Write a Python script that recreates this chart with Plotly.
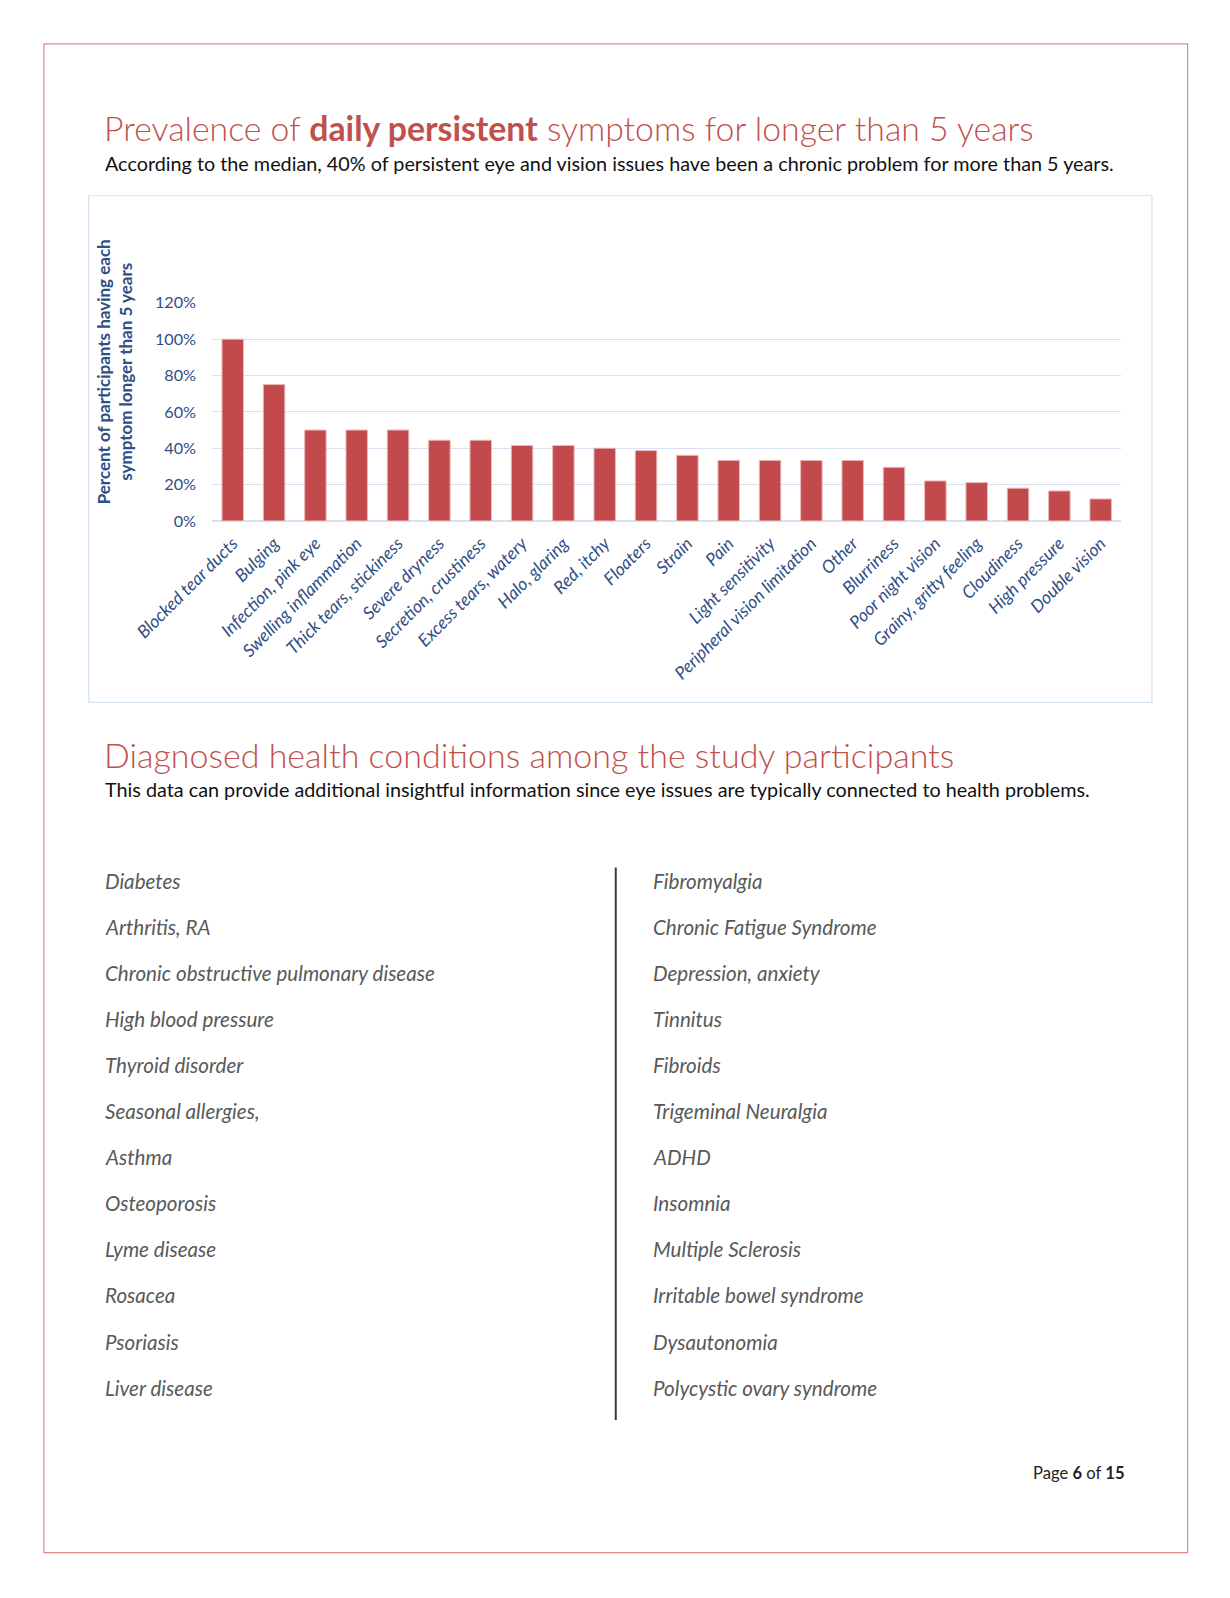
import plotly.graph_objects as go

W, H = 1230, 1598

symptoms = ["Blocked tear ducts", "Bulging", "Infection, pink eye", "Swelling inflammation",
            "Thick tears, stickiness", "Severe dryness", "Secretion, crustiness",
            "Excess tears, watery", "Halo, glaring", "Red, itchy", "Floaters", "Strain",
            "Pain", "Light sensitivity", "Peripheral vision limitation", "Other",
            "Blurriness", "Poor night vision", "Grainy, gritty feeling", "Cloudiness",
            "High pressure", "Double vision"]
percent = [100, 75, 50, 50, 50, 44.4, 44.4, 41.5, 41.5, 40, 38.7, 36.1,
           33.3, 33.3, 33.3, 33.3, 29.5, 22.0, 21.1, 18.0, 16.5, 12.1]
y_ticks = [0, 20, 40, 60, 80, 100, 120]
y_tick_labels = ["0%", "20%", "40%", "60%", "80%", "100%", "120%"]

conditions_left = ["Diabetes", "Arthritis, RA", "Chronic obstructive pulmonary disease",
                   "High blood pressure", "Thyroid disorder", "Seasonal allergies,",
                   "Asthma", "Osteoporosis", "Lyme disease", "Rosacea", "Psoriasis",
                   "Liver disease"]
conditions_right = ["Fibromyalgia", "Chronic Fatigue Syndrome", "Depression, anxiety",
                    "Tinnitus", "Fibroids", "Trigeminal Neuralgia", "ADHD", "Insomnia",
                    "Multiple Sclerosis", "Irritable bowel syndrome", "Dysautonomia",
                    "Polycystic ovary syndrome"]

# page offset (body margin) and screen scale compensation
OFF, SC = 7.8, 0.981


def px(x):
    return (x - OFF) / SC / W


def py(y):
    return 1 - (y - OFF) / SC / H


BLUE = "#2f4e86"
RED_TITLE = "#c0504d"
FONT = "Lato"

fig = go.Figure()
fig.add_trace(go.Bar(
    x=symptoms, y=percent,
    marker=dict(color="#c24a4c", line=dict(color="#e9b8b8", width=1)),
    hoverinfo="x+y",
))

fig.update_layout(
    width=W, height=H,
    margin=dict(l=0, r=0, t=0, b=0),
    paper_bgcolor="white", plot_bgcolor="white",
    showlegend=False,
    bargap=0.48,
    font=dict(family=FONT, color=BLUE),
    xaxis=dict(domain=[px(208), px(1100)], tickangle=-45, automargin=False,
               tickfont=dict(family=FONT, size=17.5, color=BLUE, style="italic"),
               showgrid=False, showline=False, ticks="", ticklabelstandoff=8, fixedrange=True),
    yaxis=dict(domain=[py(511), py(297)], range=[0, 120], automargin=False,
               tickvals=y_ticks, ticktext=y_tick_labels,
               tickfont=dict(family=FONT, size=16.2, color=BLUE),
               showgrid=True, gridcolor="#d6e2f2", gridwidth=1.2,
               zeroline=True, zerolinecolor="#d6e2f2", zerolinewidth=1.5,
               showline=False, ticks="", ticklabelstandoff=15, fixedrange=True),
)

shapes = [
    # page border
    dict(type="rect", xref="paper", yref="paper", x0=px(43), x1=px(1165), y0=py(1523), y1=py(43),
         line=dict(color="#e0898f", width=1.2)),
    # chart box
    dict(type="rect", xref="paper", yref="paper", x0=px(87), x1=px(1130), y0=py(689), y1=py(192),
         line=dict(color="#d4e2f4", width=1.2)),
    # column divider
    dict(type="line", xref="paper", yref="paper", x0=px(604), x1=px(604), y0=py(1393), y1=py(851),
         line=dict(color="#3a3a3a", width=2)),
]
fig.update_layout(shapes=shapes)

ann = []
ann.append(dict(text="Prevalence of <b>daily persistent</b> symptoms for longer than 5 years",
                x=px(100), y=py(126), xanchor="left", yanchor="middle",
                font=dict(family=FONT, size=33.8, color=RED_TITLE, weight=300)))
ann.append(dict(text="According to the median, 40% of persistent eye and vision issues have been a chronic problem for more than 5 years.",
                x=px(101), y=py(160), xanchor="left", yanchor="middle",
                font=dict(family=FONT, size=19.8, color="#111111")))
ann.append(dict(text="<b>Percent of participants having each<br>symptom longer than 5 years</b>",
                x=px(112), y=py(365), xanchor="center", yanchor="middle", textangle=-90,
                font=dict(family=FONT, size=17, color=BLUE)))
ann.append(dict(text="Diagnosed health conditions among the study participants",
                x=px(100), y=py(740), xanchor="left", yanchor="middle",
                font=dict(family=FONT, size=34, color=RED_TITLE, weight=300)))
ann.append(dict(text="This data can provide additional insightful information since eye issues are typically connected to health problems.",
                x=px(101), y=py(774), xanchor="left", yanchor="middle",
                font=dict(family=FONT, size=19.8, color="#111111")))

for i, name in enumerate(conditions_left):
    ann.append(dict(text=name, x=px(101), y=py(864 + i * 45.2), xanchor="left", yanchor="middle",
                    font=dict(family=FONT, size=20.6, color="#595959", style="italic")))
for i, name in enumerate(conditions_right):
    ann.append(dict(text=name, x=px(639), y=py(864 + i * 45.2), xanchor="left", yanchor="middle",
                    font=dict(family=FONT, size=20.6, color="#595959", style="italic")))

ann.append(dict(text="Page <b>6</b> of <b>15</b>", x=px(1106), y=py(1445), xanchor="right", yanchor="middle",
                font=dict(family=FONT, size=16.6, color="#222222")))

for a in ann:
    a.update(xref="paper", yref="paper", showarrow=False)
fig.update_layout(annotations=ann)

fig.write_html("out.html")
